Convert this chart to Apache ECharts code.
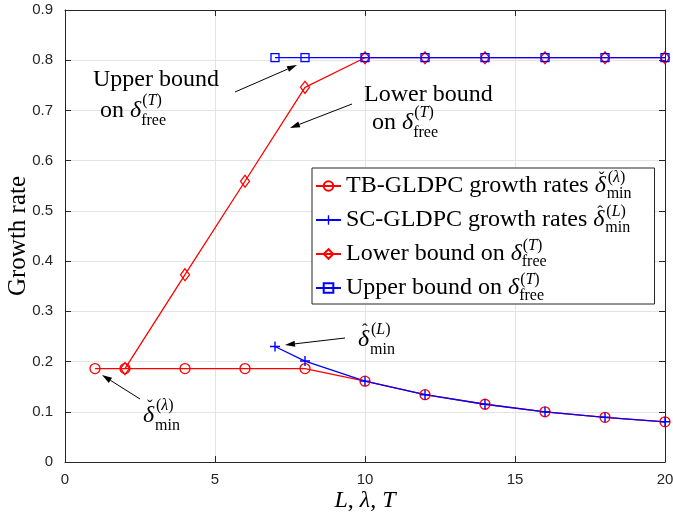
<!DOCTYPE html>
<html><head><meta charset="utf-8">
<script src="https://cdn.jsdelivr.net/npm/echarts/dist/echarts.min.js"></script>
<style>html,body{margin:0;padding:0;background:#fff}#c{width:673px;height:514px}</style>
</head><body><div id="c"></div>
<script>
// ---- data ----
const tbX = [1, 2, 4, 6, 8, 10, 12, 14, 16, 18, 20];
const tbY = [0.186, 0.186, 0.186, 0.186, 0.186, 0.161, 0.134, 0.115, 0.100, 0.089, 0.080];
const scX = [7, 8, 10, 12, 14, 16, 18, 20];
const scY = [0.230, 0.201, 0.161, 0.134, 0.115, 0.100, 0.089, 0.080];
const lbX = [2, 4, 6, 8, 10, 12, 14, 16, 18, 20];
const lbY = [0.186, 0.373, 0.559, 0.746, 0.805, 0.805, 0.805, 0.805, 0.805, 0.805];
const ubX = [7, 8, 10, 12, 14, 16, 18, 20];
const ubY = [0.805, 0.805, 0.805, 0.805, 0.805, 0.805, 0.805, 0.805];
const xTicks = [0, 5, 10, 15, 20];
const yTicks = [0, 0.1, 0.2, 0.3, 0.4, 0.5, 0.6, 0.7, 0.8, 0.9];
const seriesNames = ['TB', 'SC', 'LB', 'UB'];

const SERIF = 'Liberation Serif';
const SANS = 'Liberation Sans';
const pairs = (xs, ys) => xs.map((x, i) => [x, ys[i]]);
const PLUS = 'path://M-0.7,-5L0.7,-5L0.7,-0.7L5,-0.7L5,0.7L0.7,0.7L0.7,5L-0.7,5L-0.7,0.7L-5,0.7L-5,-0.7L-0.7,-0.7Z';

const chart = echarts.init(document.getElementById('c'), null, {renderer: 'canvas'});

// rich styles (math-like text): main, italic, superscript, subscript (zero width), accent
function mathRich(fs, ss, LH, colorKey) {
  const c = {}; c[colorKey] = '#000';
  return {
    t: Object.assign({fontFamily: SERIF, fontSize: fs, lineHeight: LH, verticalAlign: 'middle'}, c),
    i: Object.assign({fontFamily: SERIF, fontSize: fs, fontStyle: 'italic', lineHeight: LH, verticalAlign: 'middle'}, c),
    di: Object.assign({fontFamily: SERIF, fontSize: fs, fontStyle: 'italic', lineHeight: LH, verticalAlign: 'middle', width: 4}, c),
    su: Object.assign({fontFamily: SERIF, fontSize: ss, lineHeight: ss, verticalAlign: 'top'}, c),
    sui: Object.assign({fontFamily: SERIF, fontSize: ss, fontStyle: 'italic', lineHeight: ss, verticalAlign: 'top'}, c),
    sb: Object.assign({fontFamily: SERIF, fontSize: ss, lineHeight: ss, verticalAlign: 'bottom', width: 1}, c),
    ac: Object.assign({fontFamily: SERIF, fontSize: 17, lineHeight: LH - 23, verticalAlign: 'top', width: 8}, c)
  };
}
const AR = mathRich(24, 16, 36, 'fill');
const LR = mathRich(24, 16, 32, 'color');

const D_FREE = '{i|δ}{sb|free}{su|(}{sui|T}{su|)}';
const D_CHECK = '{di|δ}{ac|ˇ}{sb|min}{su|(}{sui|λ}{su|)}';
const D_HAT = '{di|δ}{ac|ˆ}{sb|min}{su|(}{sui|L}{su|)}';

function txt(x, y, text) {
  return {type: 'text', x: x, y: y, z: 100, style: {text: text, rich: AR, align: 'left', verticalAlign: 'middle', fill: '#000', fontFamily: SERIF, fontSize: 24}};
}
function arrow(x1, y1, x2, y2) {
  const a = Math.atan2(y2 - y1, x2 - x1), L = 10, W = 3;
  const bx = x2 - L * Math.cos(a), by = y2 - L * Math.sin(a);
  const px = -Math.sin(a) * W, py = Math.cos(a) * W;
  return [
    {type: 'line', z: 100, shape: {x1: x1, y1: y1, x2: bx, y2: by}, style: {stroke: '#000', lineWidth: 1}},
    {type: 'polygon', z: 100, shape: {points: [[x2, y2], [bx + px, by + py], [bx - px, by - py]]}, style: {fill: '#000'}}
  ];
}

const legendText = {
  TB: '{t|TB-GLDPC growth rates }' + D_CHECK,
  SC: '{t|SC-GLDPC growth rates }' + D_HAT,
  LB: '{t|Lower bound on }' + D_FREE,
  UB: '{t|Upper bound on }' + D_FREE
};

const AX = '#262626';
function mkX(pos, labels) {
  return {
    type: 'value', position: pos, min: xTicks[0], max: xTicks[xTicks.length - 1], interval: xTicks[1] - xTicks[0],
    axisLine: {show: true, onZero: false, lineStyle: {color: AX, width: 1}},
    axisTick: {show: true, inside: true, length: 6, lineStyle: {color: AX}},
    axisLabel: {show: labels, color: AX, fontFamily: SANS, fontSize: 15, margin: 10},
    splitLine: {show: labels, lineStyle: {color: '#e3e3e3', width: 1}},
    name: labels ? '{i|L}{t|, }{i|λ}{t|, }{i|T}' : '', nameLocation: 'middle', nameGap: 27, nameMoveOverlap: false,
    nameTextStyle: {rich: {
      t: {fontFamily: SERIF, fontSize: 24, color: '#000'},
      i: {fontFamily: SERIF, fontSize: 24, fontStyle: 'italic', color: '#000'}
    }}
  };
}
function mkY(pos, labels) {
  return {
    type: 'value', position: pos, min: yTicks[0], max: yTicks[yTicks.length - 1], interval: 0.1,
    axisLine: {show: true, onZero: false, lineStyle: {color: AX, width: 1}},
    axisTick: {show: true, inside: true, length: 6, lineStyle: {color: AX}},
    axisLabel: {show: labels, color: AX, fontFamily: SANS, fontSize: 15, margin: 12,
      formatter: v => (Math.abs(v) < 1e-9 ? '0' : v.toFixed(1))},
    splitLine: {show: labels, lineStyle: {color: '#e3e3e3', width: 1}},
    name: labels ? 'Growth rate' : '', nameLocation: 'middle', nameGap: 34, nameMoveOverlap: false,
    nameTextStyle: {fontFamily: SERIF, fontSize: 25, color: '#000'}
  };
}

function line(name, xs, ys, color, symbol, size, hollow) {
  return {
    name: name, type: 'line', xAxisIndex: 0, yAxisIndex: 0,
    data: pairs(xs, ys), symbol: symbol, symbolSize: size, showSymbol: true,
    lineStyle: {color: color, width: 1.3},
    itemStyle: hollow ? {color: 'rgba(255,255,255,0)', borderColor: color, borderWidth: 1.3} : {color: color, borderWidth: 0},
    emphasis: {disabled: true}, animation: false
  };
}

const graphics = [].concat(
  [txt(93, 80, '{t|Upper bound}'), txt(100, 111, '{t|on }' + D_FREE)],
  arrow(235, 92, 297, 65),
  [txt(364, 95, '{t|Lower bound}'), txt(372, 123, '{t|on }' + D_FREE)],
  arrow(352, 104, 290, 128),
  [txt(358, 340, D_HAT)],
  arrow(345, 338, 285, 345),
  [txt(143, 416, D_CHECK)],
  arrow(140, 399, 102, 375)
);

chart.setOption({
  backgroundColor: '#fff',
  animation: false,
  grid: {left: 65, right: 8, top: 10, bottom: 52, containLabel: false, outerBoundsMode: 'none'},
  xAxis: [mkX('bottom', true), mkX('top', false)],
  yAxis: [mkY('left', true), mkY('right', false)],
  legend: {
    orient: 'vertical', left: 312, top: 168, selectedMode: false,
    data: seriesNames,
    itemWidth: 25, itemHeight: 12, itemGap: 2,
    padding: [2, 23, 0, 3],
    backgroundColor: '#fff', borderColor: AX, borderWidth: 1,
    formatter: n => legendText[n],
    textStyle: {rich: LR, fontFamily: SERIF, fontSize: 24, color: '#000'}
  },
  series: [
    line('TB', tbX, tbY, '#ff0000', 'circle', 10, true),
    line('SC', scX, scY, '#0000ff', PLUS, 10, false),
    line('LB', lbX, lbY, '#ff0000', 'diamond', [9, 12], true),
    line('UB', ubX, ubY, '#0000ff', 'rect', 8, true)
  ],
  graphic: graphics
});
</script></body></html>
